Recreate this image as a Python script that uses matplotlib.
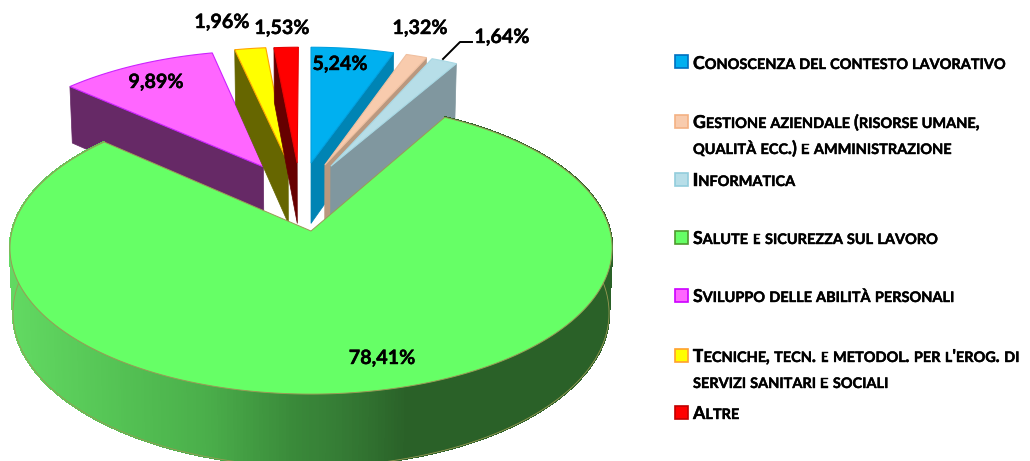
#!/usr/bin/env python
import itertools
import numpy as np
import matplotlib
matplotlib.use('Agg')
import matplotlib.pyplot as plt
import matplotlib.patheffects as pe
from matplotlib.collections import PolyCollection
from matplotlib.colors import LinearSegmentedColormap
from matplotlib.patches import Polygon, Rectangle

plt.rcParams['font.family'] = ['Lato', 'DejaVu Sans']

# Data
categories = [
    "Conoscenza del contesto lavorativo",
    "Gestione aziendale (risorse umane,\nqualità ecc.) e amministrazione",
    "Informatica",
    "Salute e sicurezza sul lavoro",
    "Sviluppo delle abilità personali",
    "Tecniche, tecn. e metodol. per l'erog. di\nservizi sanitari e sociali",
    "Altre",
]
percent = [5.24, 1.32, 1.64, 78.41, 9.89, 1.96, 1.53]
value_labels = ["5,24%", "1,32%", "1,64%", "78,41%", "9,89%", "1,96%", "1,53%"]

# Styles
top_colors = ['#00B0F0', '#F8CBAD', '#B7DEE8', '#66FF66', '#FF66FF', '#FFFF00', '#FF0000']
side_colors = ['#0084B4', '#BA987F', '#80979F', None, '#662966', '#666600', '#660000']
edge_colors = ['#00A0E0', '#F0C0A0', '#A8D8E4', '#9A9A55', '#CC22FF', '#FFA500', '#E80000']
marker_edges = ['#0070C0', '#F4B183', '#92CDDC', '#4E9A2E', '#CC00FF', '#FFA030', '#C00000']
# how far each slice is pulled out, in pie radius units (x, y)
explode = [(0, .5), (.049, .485), (.07, .475), (0, 0), (-.168, .47), (-.081, .5), (-.049, .5)]
label_pos = [(340, 64), (420, 28), (502, 37), (382, 358), (156, 82), (222, 22), (282, 28)]
legend_y = [69, 128, 186, 244, 302, 362, 419]

CX, CY = 311, 231
RX, RY = 299, 144
PERSP = .117
DEPTH = 64
BOTTOM_X = .99
bold_fx = [pe.withStroke(linewidth=.3, foreground='black')]


def project(x, y, bottom=False):
    p = 1 / (1 + PERSP * y)
    sx = RX * x * p
    sy = -RY * y * p
    if bottom:
        sx = sx * BOTTOM_X
        sy = sy + DEPTH * p
    return CX + sx, CY + sy


def arc(start, end, offset, bottom=False, n=200):
    t = np.radians(np.linspace(start, end, n))
    return np.column_stack(project(offset[0] + np.sin(t), offset[1] + np.cos(t), bottom))


fig = plt.figure(figsize=(10.3, 4.61), dpi=100)
ax = fig.add_axes([0, 0, 1, 1])
ax.set_xlim(0, 1030)
ax.set_ylim(461, 0)
ax.axis('off')

ends = np.cumsum(percent) / 100 * 360
starts = np.concatenate([[0], ends[:-1]])

# Slices are drawn back to front, the big one goes last
for i in [6, 5, 4, 0, 1, 2]:
    off = explode[i]
    apex = np.array(project(off[0], off[1]))
    apex_low = np.array(project(off[0], off[1], True))
    rim = arc(starts[i], ends[i], off)
    # the cut face that looks at the viewer
    ang = ends[i] if i < 3 else starts[i]
    face_top = arc(ang, ang, off, n=2)[0]
    face_low = arc(ang, ang, off, bottom=True, n=2)[0]
    ax.add_patch(Polygon([apex, face_top, face_low, apex_low], closed=True,
                         facecolor=side_colors[i], edgecolor=side_colors[i], lw=.5, zorder=2 + i * .01))
    ax.add_patch(Polygon(np.vstack([apex, rim]), closed=True, facecolor=top_colors[i],
                         edgecolor=edge_colors[i], lw=.8, zorder=2 + i * .01))

# Big slice: rim as thin quads shaded left to right, then top face
upper = arc(starts[3], ends[3], explode[3], n=500)
lower = arc(starts[3], ends[3], explode[3], bottom=True, n=500)
rim_cmap = LinearSegmentedColormap.from_list('rim', [
    (0, '#62DA62'), (.17, '#55C455'), (.33, '#4AAE4A'), (.47, '#3A8A3A'),
    (.55, '#357C35'), (.66, '#2A6128'), (1, '#2A6128')])
quads = [[upper[k], upper[k + 1], lower[k + 1], lower[k]] for k in range(len(upper) - 1)]
shade = rim_cmap((lower[:-1, 0] - 10) / 602)
ax.add_collection(PolyCollection(quads, facecolors=shade, edgecolors=shade, linewidths=1,
                                 antialiaseds=False, zorder=3))
ax.plot(lower[:, 0], lower[:, 1], color='#9A9A55', lw=.6, zorder=3.1)
ax.add_patch(Polygon(np.vstack([project(0, 0), upper]), closed=True, facecolor=top_colors[3],
                     edgecolor=edge_colors[3], lw=.7, zorder=4))

# Value labels
for lab, (x, y) in zip(value_labels, label_pos):
    ax.text(x, y, lab, fontsize=14.2, fontweight='bold', color='black', ha='center', va='center',
            zorder=6, path_effects=bold_fx)
ax.plot([443, 460, 472], [59, 42, 42], color='black', lw=1.4, zorder=6)

# Legend: hand made small caps, capitals big and lowercase letters as small capitals
renderer = fig.canvas.get_renderer()
BIG, SMALL = 12.8, 10.45


def text_width(s, size):
    probe = ax.text(0, 0, 'x' + s + 'x', fontsize=size, fontweight='bold')
    w = probe.get_window_extent(renderer).width
    probe.set_text('xx')
    w -= probe.get_window_extent(renderer).width
    probe.remove()
    return w


def small_caps(x, y, s):
    for low, run in itertools.groupby(s, key=str.islower):
        run = ''.join(run)
        size = SMALL if low else BIG
        ax.text(x, y, run.upper() if low else run, fontsize=size, fontweight='bold',
                color='black', va='baseline', ha='left', zorder=6, path_effects=bold_fx)
        x += text_width(run.upper() if low else run, size)


for i, cat in enumerate(categories):
    lines = cat.split('\n')
    marker_y = legend_y[i] - 7
    ax.add_patch(Rectangle((674.5, marker_y - 6.5), 13, 13, facecolor=top_colors[i],
                           edgecolor=marker_edges[i], lw=1.2, zorder=6))
    for j, line in enumerate(lines):
        small_caps(693, legend_y[i] + j * 26, line)

fig.savefig('out.png', dpi=100)
plt.close('all')
